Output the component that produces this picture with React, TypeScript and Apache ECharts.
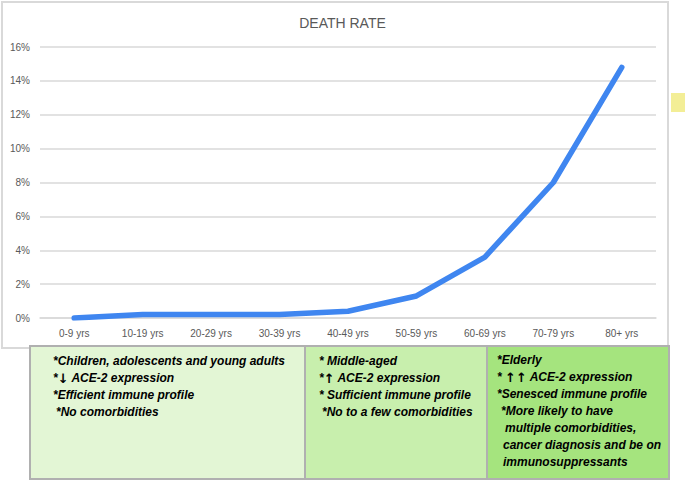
import React, { useEffect, useRef } from "react";
import * as echarts from "echarts";

const categories = ["0-9 yrs", "10-19 yrs", "20-29 yrs", "30-39 yrs", "40-49 yrs", "50-59 yrs", "60-69 yrs", "70-79 yrs", "80+ yrs"];
const deathRate = [0, 0.2, 0.2, 0.2, 0.4, 1.3, 3.6, 8.0, 14.8];
const chartTitle = "DEATH RATE";

const box1Lines = ["*Children, adolescents and young adults", "*\u2193 ACE-2 expression", "*Efficient immune profile", "*No comorbidities"];
const box2Lines = ["* Middle-aged", "*\u2191 ACE-2 expression", "* Sufficient immune profile", "*No to a few comorbidities"];
const box3Lines = ["*Elderly", "* \u2191\u2191 ACE-2 expression", "*Senesced immune profile", "*More likely to have", "multiple comorbidities,", "cancer diagnosis and be on", "immunosuppressants"];

const box1Indent = [0, 0, 0, 3];
const box2Indent = [0, 0, 0, 3];
const box3Indent = [0, 0, 0, 4, 8, 6, 6];

const FONT = "'Liberation Sans', Arial, sans-serif";

function boxTexts(lines: string[], indents: number[], x: number, y: number) {
  return lines.map((t, i) => ({
    type: "text",
    x: x + indents[i],
    y: y + i * 17,
    style: {
      text: t.replace(/([\u2191\u2193]+)/g, "{a|$1}"),
      fill: "#000",
      font: `italic bold 12px ${FONT}`,
      textVerticalAlign: "middle",
      rich: {
        a: { fontFamily: "'DejaVu Sans'", fontWeight: "bold", fontStyle: "normal", fontSize: 13, fill: "#000" },
      },
    },
    z: 20,
  }));
}

export default function App() {
  const ref = useRef<HTMLDivElement>(null);
  useEffect(() => {
    if (!ref.current) return;
    const chart = echarts.init(ref.current, undefined, { renderer: "svg" });
    chart.setOption({
      animation: false,
      backgroundColor: "#fff",
      title: {
        text: chartTitle,
        left: "center",
        top: 11,
        textStyle: { fontSize: 14, fontWeight: "normal", color: "#595959", fontFamily: FONT },
      },
      grid: { left: 40, right: 29, top: 47, bottom: 164 },
      xAxis: {
        type: "category",
        data: categories,
        boundaryGap: true,
        axisLine: { show: true, lineStyle: { color: "#d9d9d9", width: 1.5 } },
        axisTick: { show: false },
        axisLabel: { color: "#595959", fontSize: 10, fontFamily: FONT, margin: 10 },
      },
      yAxis: {
        type: "value",
        min: 0,
        max: 16,
        interval: 2,
        axisLine: { show: false },
        axisTick: { show: false },
        axisLabel: { color: "#595959", fontSize: 10, fontFamily: FONT, margin: 10, formatter: "{value}%" },
        splitLine: { lineStyle: { color: "#d9d9d9", width: 1.5 } },
      },
      series: [
        {
          type: "line",
          data: deathRate,
          showSymbol: false,
          smooth: false,
          lineStyle: { color: "#3f86f0", width: 5.5, cap: "round", join: "round" },
          z: 5,
        },
      ],
      graphic: [
        {
          type: "rect",
          shape: { x: 2, y: 2, width: 666, height: 346 },
          style: { fill: "none", stroke: "#d9d9d9", lineWidth: 2 },
          z: 1,
          silent: true,
        },
        {
          type: "rect",
          shape: { x: 671, y: 93, width: 16, height: 19 },
          style: { fill: "#f3ee96" },
          z: 1,
        },
        {
          type: "rect",
          shape: { x: 30, y: 346, width: 275, height: 133 },
          style: { fill: "#e3f6d5", stroke: "#b0b0b0", lineWidth: 2 },
          z: 10,
        },
        {
          type: "rect",
          shape: { x: 305, y: 346, width: 182, height: 133 },
          style: { fill: "#c8efad", stroke: "#b0b0b0", lineWidth: 2 },
          z: 10,
        },
        {
          type: "rect",
          shape: { x: 487, y: 346, width: 182, height: 133 },
          style: { fill: "#a5e47e", stroke: "#b0b0b0", lineWidth: 2 },
          z: 10,
        },
        ...boxTexts(box1Lines, box1Indent, 53, 361),
        ...boxTexts(box2Lines, box2Indent, 319, 361),
        ...boxTexts(box3Lines, box3Indent, 497, 360),
      ],
    });
    return () => chart.dispose();
  }, []);
  return <div ref={ref} style={{ position: "absolute", left: 0, top: 0, width: 685, height: 482 }} />;
}
